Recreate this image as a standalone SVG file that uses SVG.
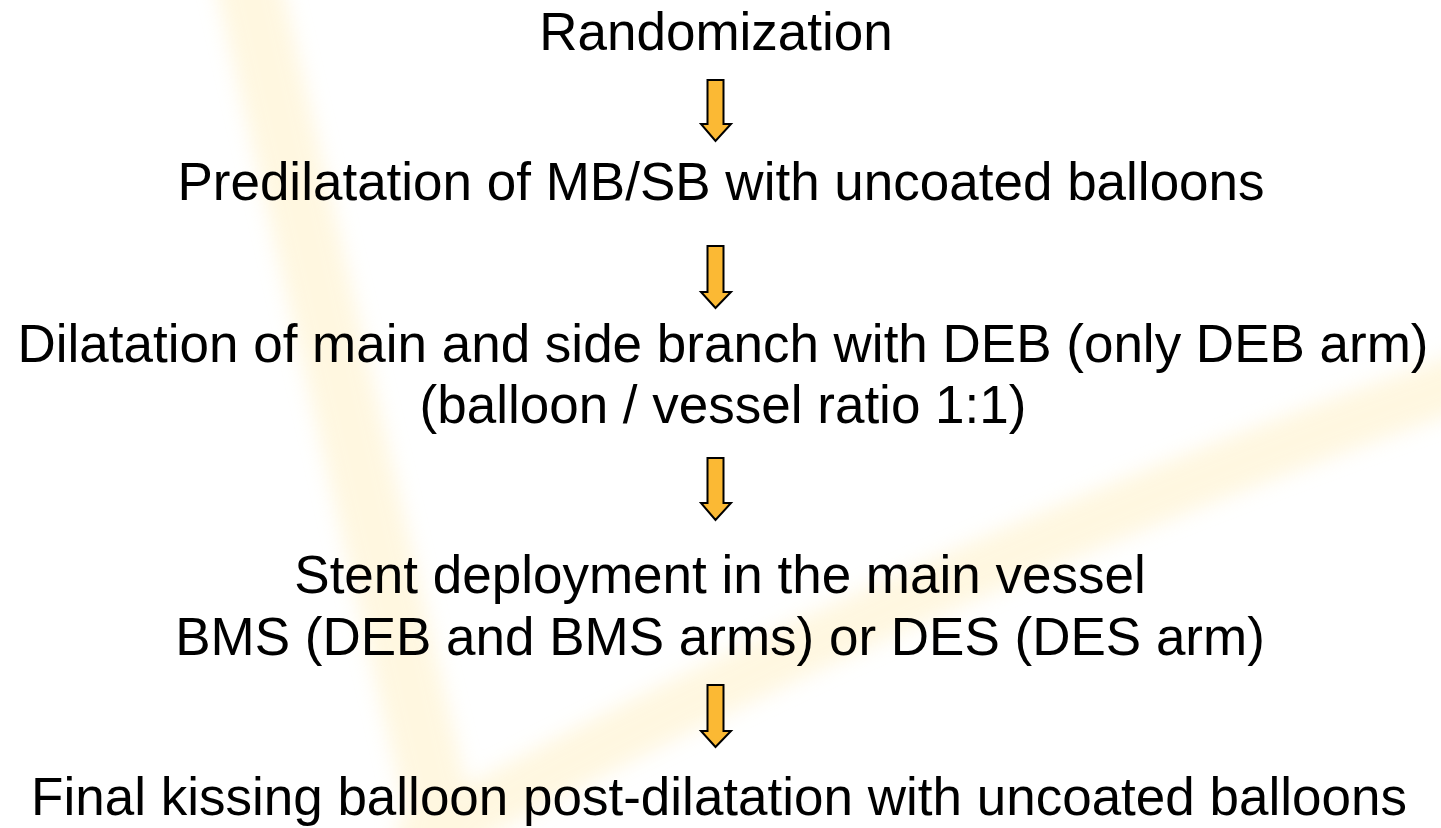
<svg xmlns="http://www.w3.org/2000/svg" width="1441" height="828" viewBox="0 0 1441 828">
  <style>
    .t { font-family: "Liberation Sans", Arial, sans-serif; font-size: 53px; fill: #000; text-anchor: middle; }
    .arr { fill: #FBB934; stroke: #000; stroke-width: 2; stroke-linejoin: miter; }
    .streak { fill: none; stroke: #FFF1C8; stroke-linecap: butt; }
  </style>
  <defs>
    <filter id="blur" x="-20%" y="-20%" width="140%" height="140%">
      <feGaussianBlur stdDeviation="10"/>
    </filter>
  </defs>
  <rect width="1441" height="828" fill="#FFFFFF"/>
  <g id="background" filter="url(#blur)" opacity="0.55">
    <path class="streak" d="M 243 -40 L 450 860" stroke-width="65"/>
    <path class="streak" d="M 1480 375 Q 900 575 405 850" stroke-width="55"/>
  </g>
  <g id="connectors">
    <path class="arr" d="M707.5 80 H723.5 V124 H731 L715.5 141 L701 124 H707.5 Z"/>
    <path class="arr" d="M707.5 246 H723.5 V292 H731 L715.5 308 L701 292 H707.5 Z"/>
    <path class="arr" d="M707.5 458 H723.5 V503 H731 L715.5 520 L701 503 H707.5 Z"/>
    <path class="arr" d="M707.5 685 H723.5 V731 H731 L715.5 747 L701 731 H707.5 Z"/>
  </g>
  <g id="node-randomization">
    <text class="t" x="716" y="50">Randomization</text>
  </g>
  <g id="node-predilatation">
    <text class="t" x="721" y="200">Predilatation of MB/SB with uncoated balloons</text>
  </g>
  <g id="node-dilatation">
    <text class="t" x="723" y="362">Dilatation of main and side branch with DEB (only DEB arm)</text>
    <text class="t" x="723" y="423">(balloon / vessel ratio 1:1)</text>
  </g>
  <g id="node-stent">
    <text class="t" x="720" y="593">Stent deployment in the main vessel</text>
    <text class="t" x="720" y="655">BMS (DEB and BMS arms) or DES (DES arm)</text>
  </g>
  <g id="node-kissing">
    <text class="t" x="719" y="815">Final kissing balloon post-dilatation with uncoated balloons</text>
  </g>
</svg>
